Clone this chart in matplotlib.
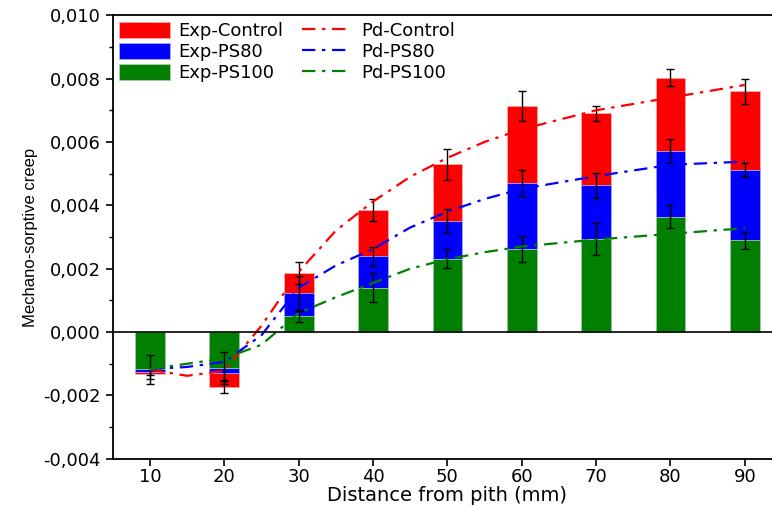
import matplotlib
matplotlib.use("Agg")
import matplotlib.pyplot as plt
from matplotlib.ticker import FuncFormatter, MultipleLocator

# bar positions (mm from pith)
dist = [10, 20, 30, 40, 50, 60, 70, 80, 90]

# experimental values (bars overlap, drawn from zero)
exp_control = [-0.00132, -0.00172, 0.00186, 0.00385, 0.00529, 0.00713, 0.00690, 0.00803, 0.00760]
exp_ps80 = [-0.00125, -0.00128, 0.00122, 0.00240, 0.00351, 0.00471, 0.00463, 0.00571, 0.00511]
exp_ps100 = [-0.00118, -0.00114, 0.00051, 0.00140, 0.00231, 0.00262, 0.00293, 0.00364, 0.00290]

err_control = [0.00015, 0.00020, 0.00035, 0.00034, 0.00050, 0.00047, 0.00025, 0.00027, 0.00040]
err_ps80 = [0.00010, 0.00025, 0.00055, 0.00030, 0.00037, 0.00041, 0.00040, 0.00038, 0.00022]
err_ps100 = [0.00045, 0.00050, 0.00020, 0.00045, 0.00030, 0.00040, 0.00050, 0.00036, 0.00027]

# predicted curves
pd_x = [10, 15, 20, 25, 30, 35, 40, 45, 50, 55, 60, 70, 80, 90]
pd_control = [-0.00118, -0.00138, -0.00122, 0.00020, 0.00190, 0.00320, 0.00412, 0.00490, 0.00550, 0.00600, 0.00640, 0.00700, 0.00740, 0.00780]
pd_ps80 = [-0.00117, -0.00110, -0.00094, -0.00010, 0.00140, 0.00210, 0.00262, 0.00330, 0.00380, 0.00420, 0.00452, 0.00492, 0.00528, 0.00538]
pd_ps100 = [-0.00117, -0.00100, -0.00083, -0.00040, 0.00060, 0.00110, 0.00155, 0.00200, 0.00230, 0.00252, 0.00270, 0.00292, 0.00310, 0.00328]

plt.rcParams['font.family'] = ['DejaVu Sans']

fig = plt.figure(figsize=(7.72, 5.07), dpi=100)
ax = fig.add_axes([0.146, 0.095, 0.867, 0.875])

red, blue, green = '#ff0000', '#0000ff', '#007f00'
w = 4.0
ekw = dict(ecolor='black', elinewidth=1.0, capsize=3, capthick=1.0)

b1 = ax.bar(dist, exp_control, width=w, color=red, edgecolor='#ffaaaa', linewidth=0.6,
            yerr=err_control, error_kw=ekw, label='Exp-Control', zorder=2)
b2 = ax.bar(dist, exp_ps80, width=w, color=blue, edgecolor='#aaaaff', linewidth=0.6,
            yerr=err_ps80, error_kw=ekw, label='Exp-PS80', zorder=3)
b3 = ax.bar(dist, exp_ps100, width=w, color=green, edgecolor='#aaccaa', linewidth=0.6,
            yerr=err_ps100, error_kw=ekw, label='Exp-PS100', zorder=4)

ls = (0, (6, 3, 1.5, 3))
l1, = ax.plot(pd_x, pd_control, color=red, linestyle=ls, linewidth=1.6, label='Pd-Control', zorder=5)
l2, = ax.plot(pd_x, pd_ps80, color=blue, linestyle=ls, linewidth=1.6, label='Pd-PS80', zorder=5)
l3, = ax.plot(pd_x, pd_ps100, color=green, linestyle=ls, linewidth=1.6, label='Pd-PS100', zorder=5)

ax.axhline(0, color='black', linewidth=1.2, zorder=6)

ax.set_xlim(5, 95)
ax.set_ylim(-0.004, 0.010)
ax.set_xticks(dist)
ax.yaxis.set_major_locator(MultipleLocator(0.002))
ax.yaxis.set_minor_locator(MultipleLocator(0.001))
ax.yaxis.set_major_formatter(FuncFormatter(lambda v, p: ('%.3f' % v).replace('.', ',')))
ax.tick_params(axis='both', which='major', direction='out', length=5, width=1.2, labelsize=13)
ax.tick_params(axis='x', which='major', pad=1.5)
ax.tick_params(axis='y', which='minor', direction='out', length=3, width=1.0)
ax.spines['right'].set_visible(False)
for s in ['left', 'bottom', 'top']:
    ax.spines[s].set_linewidth(1.3)

ax.set_xlabel('Distance from pith (mm)', fontsize=14, labelpad=0)
ax.set_ylabel('Mechano-sorptive creep', fontsize=12, labelpad=4,
              family=['Liberation Sans', 'DejaVu Sans'])

ax.legend([b1, b2, b3, l1, l2, l3],
          ['Exp-Control', 'Exp-PS80', 'Exp-PS100', 'Pd-Control', 'Pd-PS80', 'Pd-PS100'],
          loc='upper left', bbox_to_anchor=(0.0, 1.0), ncol=2, frameon=False, fontsize=13,
          handlelength=2.8, handleheight=1.0, columnspacing=1.0, labelspacing=0.17,
          borderaxespad=0.2, borderpad=0.15, handletextpad=0.5)

fig.savefig('out.png', dpi=100)
